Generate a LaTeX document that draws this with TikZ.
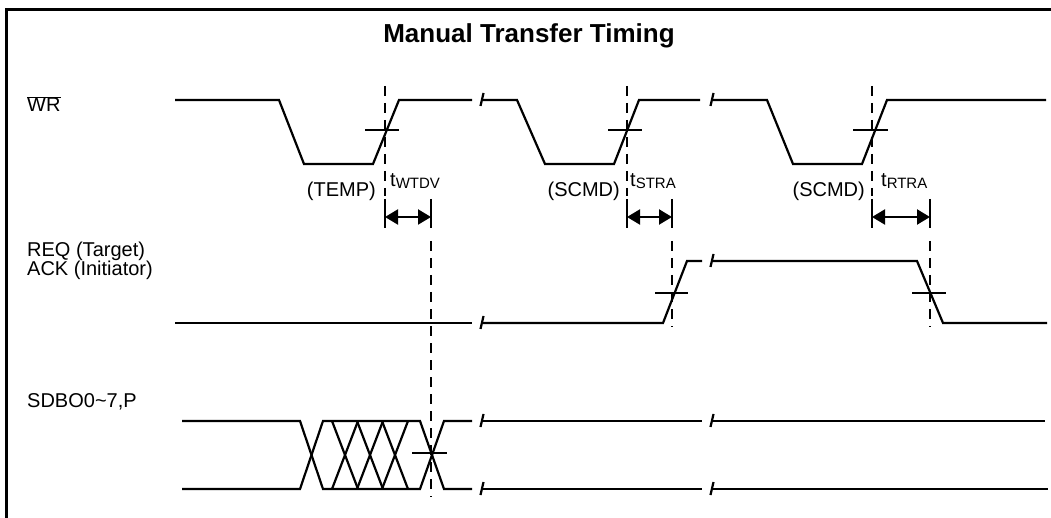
\documentclass[tikz,border=0pt]{standalone}
\usepackage{fontspec}
\setmainfont{Liberation Sans}
\usepackage{tikz}
\usetikzlibrary{arrows.meta}

\newcommand{\tsub}[1]{t\raisebox{-2pt}{\fontsize{15}{15}\selectfont #1}}

\begin{document}
\begin{tikzpicture}[
    x=1pt, y=-1pt,
    >={Triangle[length=13pt, width=15pt]},
    sig/.style={draw=black, line width=2.2pt},
    guide/.style={draw=black, line width=2pt, dash pattern=on 10pt off 7pt},
    bar/.style={draw=black, line width=2.2pt},
    lbl/.style={font=\fontsize{20}{17}\selectfont, inner sep=0pt, align=left},
    brk/.pic={\draw[sig] (-1.5,6) -- (1.5,-7);}
]
\useasboundingbox (0,0) rectangle (1051,518);

% ==================== FRAME & TITLE ====================
\draw[line width=3pt] (6,518) -- (6,10) -- (1051,10);
\node[font=\fontsize{26}{30}\selectfont\bfseries, anchor=base, inner sep=0pt] (title) at (529,43) {Manual Transfer Timing};

% ==================== SIGNAL NAMES ====================
\node[lbl, anchor=base west] (wr_lbl) at (27,112) {$\overline{\mbox{WR}}$};
\node[lbl, anchor=base west] (req_lbl) at (27,276) {REQ (Target)\\ACK (Initiator)};
\node[lbl, anchor=base west] (sdb_lbl) at (27,407) {SDBO0\textasciitilde7,P};

% ==================== WR ====================
\draw[sig] (175,100) -- (279,100) -- (304,164) -- (373,164) -- (399,100) -- (472,100);
\draw[sig] (483,100) -- (517,100) -- (545,164) -- (614,164) -- (639,100) -- (700,100);
\draw[sig] (713,100) -- (767,100) -- (793,164) -- (862,164) -- (887,100) -- (1046,100);
\pic at (482,100) {brk};
\pic at (712,100) {brk};
\draw[bar] (365,130) -- (399,130);
\draw[bar] (608,130) -- (642,130);
\draw[bar] (853,130) -- (888,130);

% ==================== REQ / ACK ====================
\draw[sig] (175,323) -- (472,323);
\draw[sig] (483,323) -- (663,323) -- (687,261) -- (702,261);
\draw[sig] (713,261) -- (917,261) -- (943,323) -- (1047,323);
\pic at (482,323) {brk};
\pic at (712,261) {brk};
\draw[bar] (655,293) -- (688,293);
\draw[bar] (912,293) -- (946,293);

% ==================== SDBO0~7,P ====================
\draw[sig] (182,421) -- (300,421) -- (323,489) -- (420,489) -- (444,421) -- (472,421);
\draw[sig] (182,489) -- (300,489) -- (323,421) -- (420,421) -- (444,489) -- (472,489);
\foreach \cx in {345,370,395} {
    \draw[sig] (\cx-13,421) -- (\cx+13,489);
    \draw[sig] (\cx-13,489) -- (\cx+13,421);
}
\draw[sig] (483,421) -- (702,421);
\draw[sig] (483,489) -- (702,489);
\draw[sig] (713,421) -- (1045,421);
\draw[sig] (713,489) -- (1048,489);
\foreach \yy in {421,489} {
    \pic at (482,\yy) {brk};
    \pic at (712,\yy) {brk};
}
\draw[bar] (412,453) -- (447,453);

% ==================== TIMING GUIDES ====================
\foreach \xa/\xb/\yend in {385/431/497, 627/672/327, 872/930/327} {
    \draw[guide] (\xa,86) -- (\xa,196);
    \draw[bar] (\xa,199) -- (\xa,228);
    \draw[bar] (\xb,199) -- (\xb,228);
    \draw[bar, <->] (\xa,217) -- (\xb,217);
    \draw[guide] (\xb,241) -- (\xb,\yend);
}

% ==================== EDGE LABELS ====================
\node[lbl, anchor=base east] (temp_lbl) at (376,197) {(TEMP)};
\node[lbl, anchor=base west] (wtdv_lbl) at (390,187) {\tsub{WTDV}};
\node[lbl, anchor=base east] (scmd_a) at (620,197) {(SCMD)};
\node[lbl, anchor=base west] (stra_lbl) at (630,187) {\tsub{STRA}};
\node[lbl, anchor=base east] (scmd_b) at (865,197) {(SCMD)};
\node[lbl, anchor=base west] (rtra_lbl) at (881,187) {\tsub{RTRA}};

\end{tikzpicture}
\end{document}
